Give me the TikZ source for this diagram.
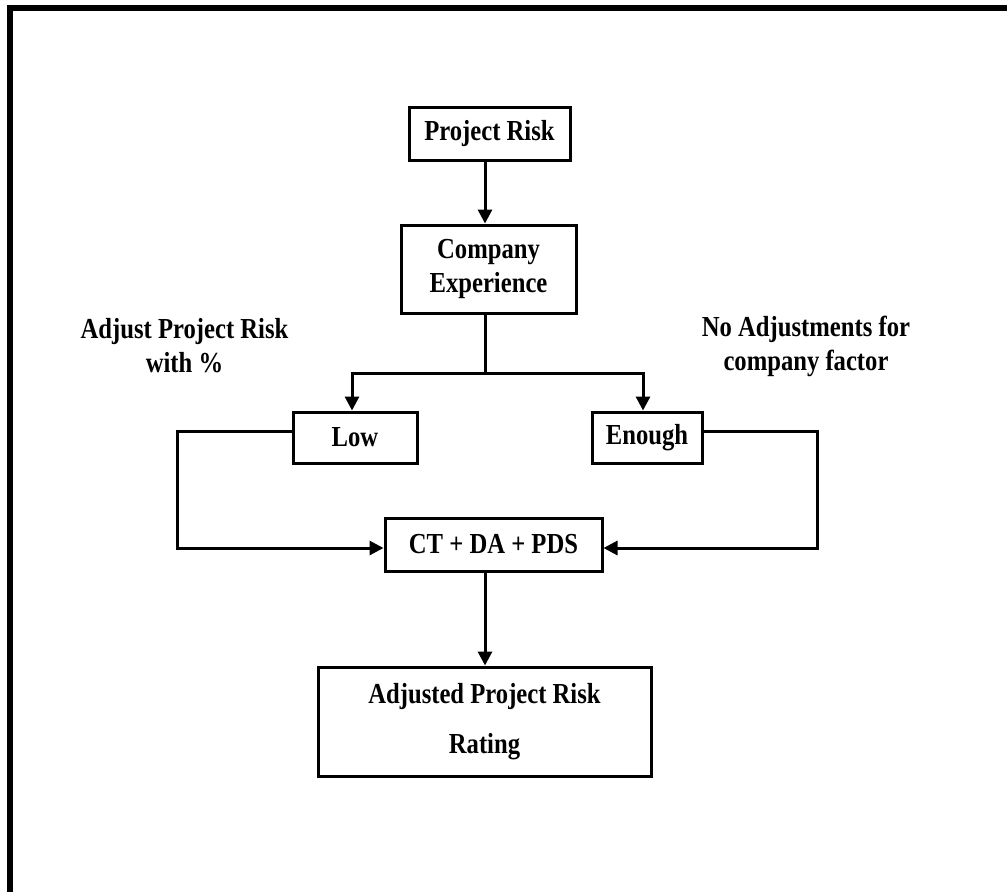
\documentclass[tikz,border=0pt]{standalone}
\usepackage{fontspec}
\setmainfont{Liberation Serif}[FakeStretch=0.85]
\usetikzlibrary{arrows.meta}
\begin{document}
\begin{tikzpicture}[x=1pt,y=-1pt,
  every node/.style={font=\fontsize{29}{34}\selectfont\bfseries},
  box/.style={draw, line width=3pt, inner sep=0pt, align=center},
  conn/.style={line width=3pt},
  arr/.style={conn, -{Triangle[length=14pt,width=14pt]}},
  note/.style={align=center, inner sep=0pt}]
\useasboundingbox (0,0) rectangle (1007,892);
% frame
\fill (7,5) rectangle (1007,11);
\fill (7,5) rectangle (13,892);
% boxes
\node[box, minimum width=161pt, minimum height=53pt] (pr) at (489.5,133.5) {Project Risk};
\node[box, minimum width=175pt, minimum height=88pt] (ce) at (488.5,269) {Company\\Experience};
\node[box, minimum width=124pt, minimum height=51pt] (low) at (355,437.5) {Low};
\node[box, minimum width=110pt, minimum height=51pt] (en) at (647,437.5) {Enough};
\node[box, minimum width=217pt, minimum height=53pt] (ct) at (493.5,544.5) {CT + DA + PDS};
\node[box, minimum width=333pt, minimum height=109pt,
      font=\fontsize{29}{50}\selectfont\bfseries] (adj) at (484.5,721.5) {Adjusted Project Risk\\Rating};
% notes
\node[note] (nl) at (184.5,346) {Adjust Project Risk\\with \%};
\node[note] (nr) at (806,346) {No Adjustments for\\company factor};
% routing points
\coordinate (j) at (485,373);
\coordinate (jl) at (352,373);
\coordinate (jr) at (643,373);
\coordinate (lc) at (177,548);
\coordinate (rc) at (817,548);
% connectors
\draw[arr] (pr.south -| j) -- (ce.north -| j);
\draw[conn] (ce.south -| j) -- (j);
\draw[conn, line cap=rect] (jl) -- (jr);
\draw[arr] (jl) -- (jl |- low.north);
\draw[arr] (jr) -- (jr |- en.north);
\draw[arr] ([yshift=6.5pt]low.west) -| (lc) -- (lc -| ct.west);
\draw[arr] ([yshift=6.5pt]en.east) -| (rc) -- (rc -| ct.east);
\draw[arr] (ct.south -| j) -- (adj.north -| j);
\end{tikzpicture}
\end{document}
